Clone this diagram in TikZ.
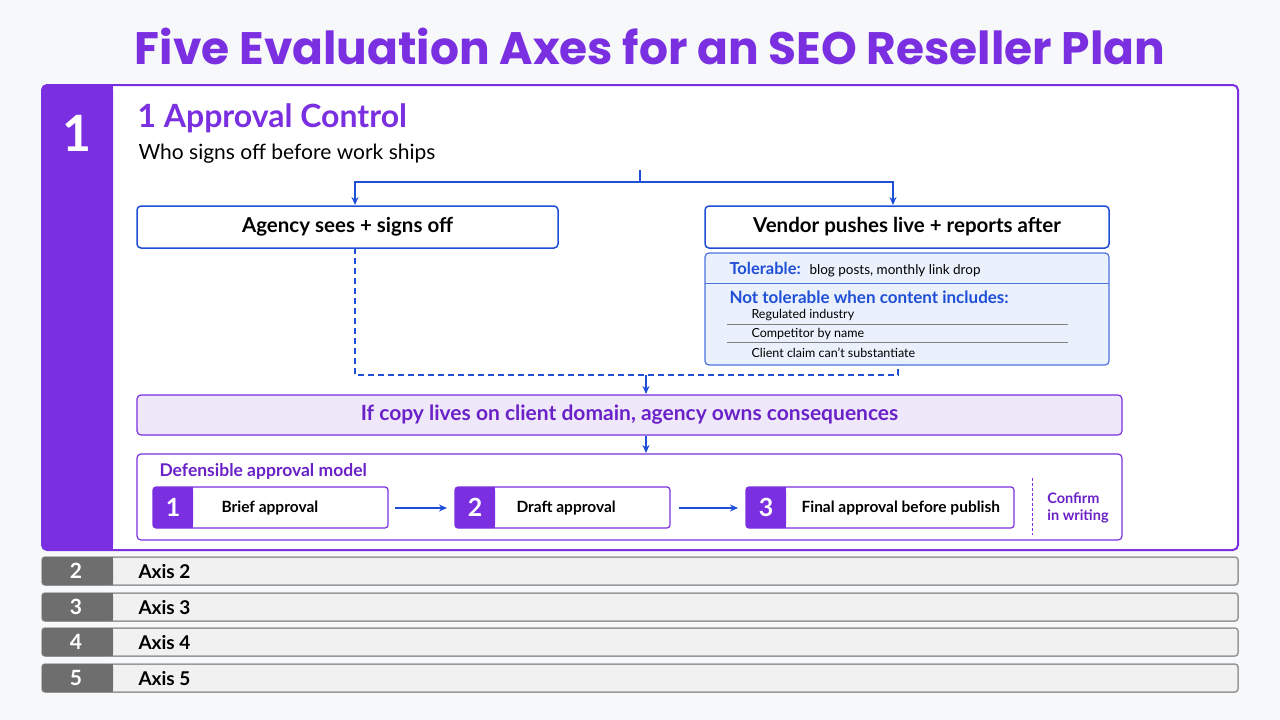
\documentclass[tikz,border=0pt]{standalone}
\usepackage{fontspec}
\setmainfont{Lato}
\newfontfamily\popf{Poppins}
\usetikzlibrary{arrows.meta}
\definecolor{pur}{HTML}{7A2FE0}
\definecolor{dpur}{HTML}{6A22C8}
\definecolor{blu}{HTML}{1F4FD6}
\definecolor{lblu}{HTML}{EAF1FC}
\definecolor{lpur}{HTML}{EFE8FB}
\definecolor{bg}{HTML}{F7F8FA}
\definecolor{gtab}{HTML}{6E6E6E}
\definecolor{grow}{HTML}{F1F1F2}
\begin{document}
\begin{tikzpicture}[x=1pt,y=-1pt,
 bluebox/.style={draw=blu,line width=1.5pt,rounded corners=4pt,fill=white},
 arr/.style={-{Stealth[length=8pt,width=7pt]},blu,line width=1.5pt},
 ln/.style={blu,line width=1.5pt},
 stepbox/.style={draw=pur,line width=1.2pt,rounded corners=3pt,fill=white},
 stepnum/.style={fill=pur,text=white,font=\bfseries\fontsize{25}{25}\selectfont},
 steptxt/.style={font=\bfseries\fontsize{15.5}{16}\selectfont,anchor=west},
 axrow/.style={draw=gray!80,line width=1.5pt,rounded corners=3pt,fill=grow},
 axnum/.style={text=white,font=\bfseries\fontsize{21}{21}\selectfont},
 axtxt/.style={font=\bfseries\fontsize{19}{19}\selectfont,anchor=west},
 item/.style={font=\fontsize{12.5}{13}\selectfont,anchor=west}]
\fill[bg] (0,0) rectangle (1280,720);
\useasboundingbox (0,0) rectangle (1280,720);
\node[text=pur,font=\popf\bfseries\fontsize{45.5}{46}\selectfont] (title) at (650,46) {Five Evaluation Axes for an SEO Reseller Plan};
% main panel
\draw[pur,line width=2pt,fill=white,rounded corners=5pt] (42,85) rectangle (1238,550);
\fill[pur,rounded corners=5pt] (42,85) rectangle (113,550);
\fill[pur] (80,85) rectangle (113,550);
\node[text=white,font=\bfseries\fontsize{50}{50}\selectfont] (n1) at (77,133) {1};
\node[anchor=west,text=pur,font=\bfseries\fontsize{32}{32}\selectfont] (h1) at (134,118) {1 Approval Control};
\node[anchor=west,font=\fontsize{21}{21}\selectfont] (sub) at (135,154) {Who signs off before work ships};
% top boxes
\node[bluebox,minimum width=421pt,minimum height=42pt,font=\bfseries\fontsize{20.5}{20}\selectfont] (ag) at (347.5,227) {Agency sees + signs off};
\node[bluebox,minimum width=404pt,minimum height=42pt,font=\bfseries\fontsize{20.5}{20}\selectfont] (ve) at (907,227) {Vendor pushes live + reports after};
\coordinate (top) at (640,170);
\coordinate (split) at (640,182);
\draw[ln] (top) -- (split);
\draw[arr] (split) -| (355,205);
\draw[arr] (split) -| (893,205);
% tolerable box
\draw[draw=blu!80,line width=1.2pt,fill=lblu,rounded corners=4pt] (705,253) rectangle (1109,365);
\draw[blu!80,line width=1pt] (705,283) -- (1109,283);
\node[anchor=base west,text=blu,font=\bfseries\fontsize{16.5}{16}\selectfont] (tl) at (726,274) {Tolerable:};
\node[anchor=base west,font=\fontsize{13.5}{13}\selectfont] (tl2) at (806,274) {blog posts, monthly link drop};
\node[anchor=base west,text=blu,font=\bfseries\fontsize{17}{16}\selectfont] (nt) at (726,303) {Not tolerable when content includes:};
\node[item] (i1) at (748,315) {Regulated industry};
\node[item] (i2) at (748,334) {Competitor by name};
\node[item] (i3) at (748,353) {Client claim can't substantiate};
\draw[gray,line width=0.8pt] (727,324) -- (1068,324) (727,342) -- (1068,342);
% dashed merge
\coordinate (dl) at (355,375);
\coordinate (dr) at (898,375);
\coordinate (dm) at (646,375);
\coordinate (db) at (355,248);
\draw[ln,dash pattern=on 6pt off 4pt] (db) -- (dl) -- (dr) -- (898,365);
% consequence box
\node[draw=pur,line width=1.2pt,fill=lpur,rounded corners=4pt,minimum width=985pt,minimum height=40pt,text=dpur,font=\bfseries\fontsize{21}{21}\selectfont] (cons) at (629.5,415) {If copy lives on client domain, agency owns consequences};
\draw[arr] (dm) -- (646,394);
% model box
\draw[pur,line width=1.2pt,fill=white,rounded corners=4pt] (137,454) rectangle (1122,540);
\coordinate (cb) at (646,436);
\draw[arr] (cb) -- (646,453);
\node[anchor=west,text=dpur,font=\bfseries\fontsize{17.5}{17}\selectfont] (dm2) at (156,471) {Defensible approval model};
% steps
\draw[stepbox] (153,487) rectangle (388,528);
\fill[pur,rounded corners=3pt] (153,487) rectangle (193,528); \fill[pur] (180,487) rectangle (193,528);
\node[stepnum] (s1) at (173,507.5) {1};
\node[steptxt] (t1) at (218,508) {Brief approval};
\draw[stepbox] (455,487) rectangle (670,528);
\fill[pur,rounded corners=3pt] (455,487) rectangle (495,528); \fill[pur] (482,487) rectangle (495,528);
\node[stepnum] (s2) at (475,507.5) {2};
\node[steptxt] (t2) at (513,508) {Draft approval};
\draw[stepbox] (746,487) rectangle (1014,528);
\fill[pur,rounded corners=3pt] (746,487) rectangle (786,528); \fill[pur] (773,487) rectangle (786,528);
\node[stepnum] (s3) at (766,507.5) {3};
\node[steptxt] (t3) at (798,508) {Final approval before publish};
\draw[arr] (395,508) -- (447,508);
\draw[arr] (679,508) -- (738,508);
\draw[pur,line width=0.8pt,dash pattern=on 3pt off 2pt] (1032,478) -- (1032,535);
\node[text=dpur,align=left,font=\bfseries\fontsize{14.5}{17}\selectfont] (cw) at (1078,508) {Confirm\\in writing};
% axis rows
\foreach \n/\y in {2/557,3/593,4/628,5/664}{
 \draw[axrow] (42,\y) rectangle (1238,\y+28);
 \fill[gtab,rounded corners=3pt] (42,\y) rectangle (113,\y+28);
 \fill[gtab] (90,\y) rectangle (113,\y+28);
 \node[axnum] (an\n) at (76,\y+14) {\n};
 \node[axtxt] (at\n) at (135,\y+15) {Axis \n};
}
\end{tikzpicture}
\end{document}
